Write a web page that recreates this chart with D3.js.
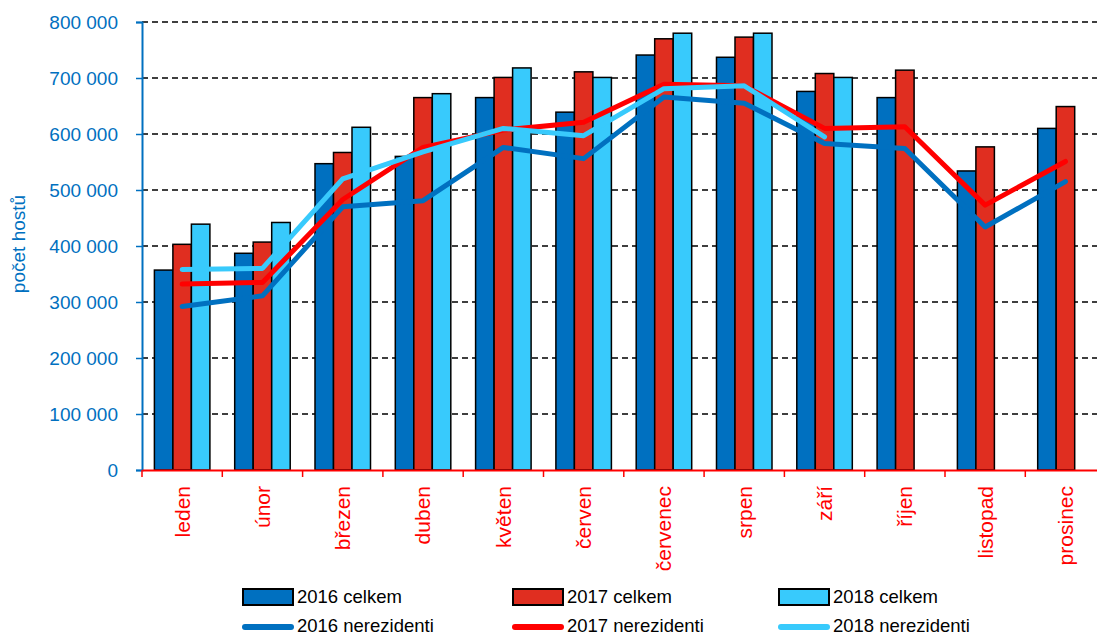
<!DOCTYPE html>
<html><head><meta charset="utf-8">
<script src="https://cdn.jsdelivr.net/npm/d3@7"></script>
<style>
html,body{margin:0;padding:0;background:#fff;overflow:hidden}
svg{display:block;font-family:Arial,"Liberation Sans",sans-serif}
</style></head>
<body>
<svg id="chart" width="1097" height="637"></svg>
<script>
const months = ["leden","únor","březen","duben","květen","červen","červenec","srpen","září","říjen","listopad","prosinec"];
const celkem2016 = [357000, 387000, 547000, 560000, 665000, 639000, 741000, 737000, 676000, 665000, 534000, 610000];
const celkem2017 = [403000, 407000, 567000, 665000, 701000, 711000, 770000, 773000, 708000, 714000, 577000, 649000];
const celkem2018 = [439000, 442000, 612000, 672000, 718000, 701000, 780000, 780000, 701000, null, null, null];
const nerez2016 = [292000, 311000, 470000, 481000, 576000, 556000, 666000, 655000, 583000, 574000, 434000, 515000];
const nerez2017 = [332000, 335000, 483000, 576000, 607000, 621000, 689000, 686000, 610000, 613000, 473000, 551000];
const nerez2018 = [358000, 360000, 520000, 568000, 610000, 597000, 681000, 686000, 595000, null, null, null];
const yTicks = [0,100000,200000,300000,400000,500000,600000,700000,800000];
const barNames = ["2016 celkem","2017 celkem","2018 celkem"];
const lineNames = ["2016 nerezidenti","2017 nerezidenti","2018 nerezidenti"];
const barColors = ["#0070C0","#E02E20","#38CAFC"];
const lineColors = ["#0070C0","#FF0000","#38CAFC"];

const barSeries = [celkem2016, celkem2017, celkem2018];
const lineSeries = [nerez2016, nerez2017, nerez2018];

const svg = d3.select("#chart");
const plotLeft = 142, plotTop = 22, plotBottom = 470, bandStep = 80.3;
const plotRight = plotLeft + months.length * bandStep;

const x = d3.scaleBand().domain(months).range([plotLeft, plotRight]).paddingInner(0).paddingOuter(0);
const x1 = d3.scaleBand().domain([0,1,2]).range([0, x.bandwidth()]).paddingInner(0).paddingOuter(0.67);
const y = d3.scaleLinear().domain([0, 800000]).range([plotBottom, plotTop]);

const fmt = v => d3.format(",")(v).replace(/,/g, " ");

// gridlines
svg.append("g").selectAll("line").data(yTicks.filter(d => d > 0)).join("line")
  .attr("x1", plotLeft).attr("x2", plotRight)
  .attr("y1", d => y(d)).attr("y2", d => y(d))
  .attr("stroke", "#000").attr("stroke-width", 1.5).attr("stroke-dasharray", "6,4");

// bars
const gBars = svg.append("g");
barSeries.forEach((ser, si) => {
  gBars.append("g").selectAll("rect")
    .data(months.map((m, i) => ({m, v: ser[i]})).filter(d => d.v != null))
    .join("rect")
    .attr("x", d => x(d.m) + x1(si))
    .attr("width", x1.bandwidth())
    .attr("y", d => y(d.v))
    .attr("height", d => y(0) - y(d.v))
    .attr("fill", barColors[si])
    .attr("stroke", "#000").attr("stroke-width", 1.5);
});

// lines
const lineGen = d3.line()
  .defined(d => d.v != null)
  .x(d => x(d.m) + x.bandwidth() / 2)
  .y(d => y(d.v));
lineSeries.forEach((ser, si) => {
  svg.append("path")
    .datum(months.map((m, i) => ({m, v: ser[i]})))
    .attr("d", lineGen)
    .attr("fill", "none")
    .attr("stroke", lineColors[si])
    .attr("stroke-width", 5)
    .attr("stroke-linejoin", "round")
    .attr("stroke-linecap", "round");
});

// y axis
const yAxis = d3.axisLeft(y).tickValues(yTicks).tickSize(6).tickPadding(18).tickFormat(fmt);
const gy = svg.append("g").attr("transform", `translate(${plotLeft},0)`).call(yAxis);
gy.select(".domain").attr("stroke", "#0070C0").attr("stroke-width", 2);
gy.selectAll(".tick line").attr("stroke", "#0070C0").attr("stroke-width", 1.5);
gy.selectAll(".tick text").attr("fill", "#0070C0").attr("font-size", 19)
  .attr("font-family", "Arial, 'Liberation Sans', sans-serif");

// x axis
const xAxis = d3.axisBottom(x).tickSize(0).tickFormat("");
const gx = svg.append("g").attr("transform", `translate(0,${plotBottom})`).call(xAxis);
gx.select(".domain").attr("stroke", "#FF0000").attr("stroke-width", 2);
gx.append("g").selectAll("line").data(months.map(m => x(m))).join("line")
  .attr("x1", d => d).attr("x2", d => d).attr("y1", 0).attr("y2", 7)
  .attr("stroke", "#FF0000").attr("stroke-width", 1.5);
svg.append("g").selectAll("text").data(months).join("text")
  .attr("transform", d => `translate(${x(d) + x.bandwidth() / 2},486) rotate(-90)`)
  .attr("text-anchor", "end").attr("dy", "0.35em")
  .attr("fill", "#FF0000").attr("font-size", 21)
  .text(d => d);

// y title
svg.append("text")
  .attr("transform", "translate(18,244) rotate(-90)")
  .attr("text-anchor", "middle").attr("dy", "0.35em")
  .attr("fill", "#0070C0").attr("font-size", 19)
  .text("počet hostů");

// legend
const legX = [243, 513, 779];
const leg = svg.append("g");
barNames.forEach((n, i) => {
  leg.append("rect").attr("x", legX[i]).attr("y", 589).attr("width", 50).attr("height", 16)
    .attr("fill", barColors[i]).attr("stroke", "#000").attr("stroke-width", 2);
  leg.append("text").attr("x", legX[i] + 54).attr("y", 597).attr("dy", "0.35em")
    .attr("font-size", 18.5).attr("fill", "#000").text(n);
});
lineNames.forEach((n, i) => {
  leg.append("line").attr("x1", legX[i] + 2).attr("x2", legX[i] + 48).attr("y1", 627).attr("y2", 627)
    .attr("stroke", lineColors[i]).attr("stroke-width", 6).attr("stroke-linecap", "round");
  leg.append("text").attr("x", legX[i] + 54).attr("y", 626).attr("dy", "0.33em")
    .attr("font-size", 18.5).attr("fill", "#000").text(n);
});
</script>
</body></html>
